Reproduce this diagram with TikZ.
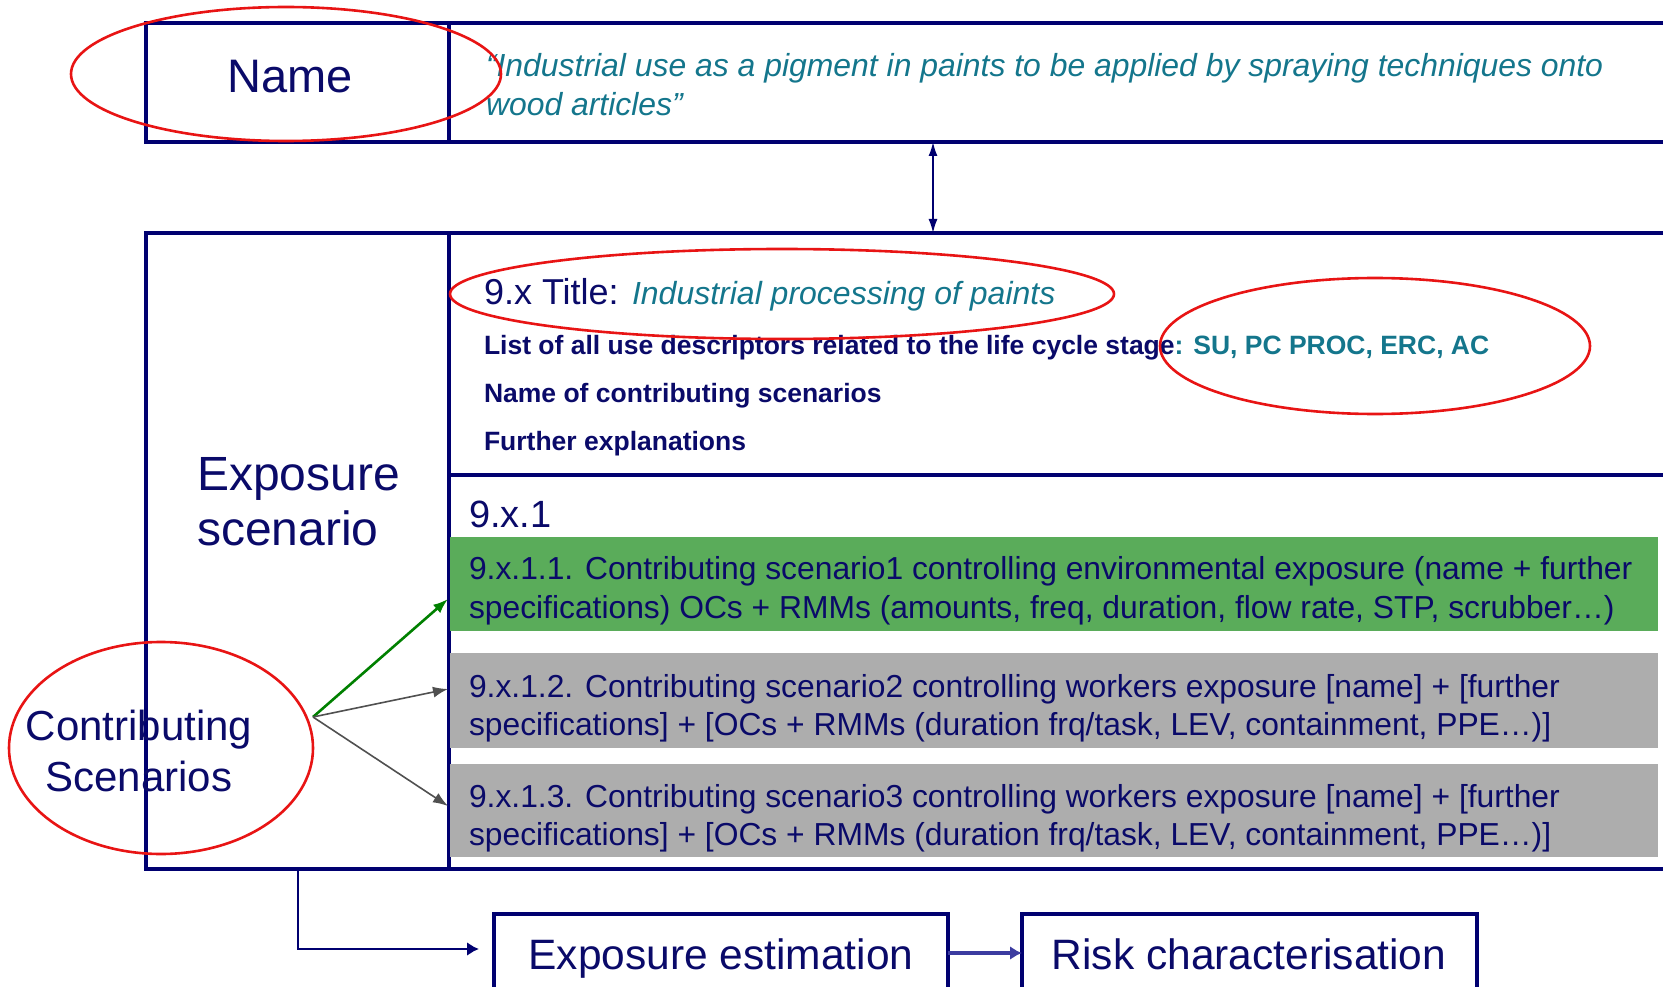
\documentclass[tikz,border=0pt]{standalone}
\usepackage{fontspec}
\setmainfont{Liberation Sans}
\usetikzlibrary{arrows.meta,calc}
\definecolor{navyline}{RGB}{0,0,112}
\definecolor{navytext}{RGB}{10,10,105}
\definecolor{tealtext}{RGB}{20,118,140}
\definecolor{greenfill}{RGB}{90,172,90}
\definecolor{grayfill}{RGB}{173,173,173}
\definecolor{ringred}{RGB}{232,20,20}
\definecolor{arrowgreen}{RGB}{0,128,0}
\definecolor{arrowgray}{RGB}{80,80,80}
\definecolor{flowblue}{RGB}{60,60,160}
\newcommand{\fsz}[1]{\fontsize{#1pt}{#1pt}\selectfont}
\begin{document}
\begin{tikzpicture}[x=1pt,y=-1pt,
  box/.style={draw=navyline, line width=3.4pt, inner sep=0pt, outer sep=0pt, anchor=north west},
  band/.style={inner sep=0pt, outer sep=0pt, anchor=north west, minimum width=1208pt, minimum height=94pt},
  txt/.style={inner sep=0pt, outer sep=0pt, anchor=base west, text=navytext},
  ring/.style={draw=ringred, line width=2.6pt},
  spoke/.style={line width=1.6pt, -{Latex[length=15pt,width=11pt]}},
  flow/.style={draw=navyline, line width=2.8pt, -{Latex[length=12pt,width=14pt]}}]
\clip (0,0) rectangle (1663,987);

% name row
\node[box, minimum width=303pt, minimum height=119pt] (namecell) at (146,23) {};
\node[box, minimum width=1300pt, minimum height=119pt] (namebody) at (449,23) {};
\node[txt, anchor=base, font=\fsz{47}] (nametxt) at (290,93) {Name};
\node[txt, font=\fsz{31.9}\itshape, text=tealtext] (quote1) at (486,77) {“Industrial use as a pigment in paints to be applied by spraying techniques onto};
\node[txt, font=\fsz{31.9}\itshape, text=tealtext] (quote2) at (486,116) {wood articles”};

% exposure scenario block
\node[box, minimum width=303pt, minimum height=636pt] (escol) at (146,233) {};
\node[box, minimum width=1300pt, minimum height=636pt] (esbody) at (449,233) {};
\coordinate (divider) at (0,475);
\draw[navyline, line width=3.4pt] (esbody.west |- divider) -- (1700,475);

\node[txt, font=\fsz{36}] (title) at (484,305) {9.x Title: \textcolor{tealtext}{\fsz{32}\itshape Industrial processing of paints}};
\node[txt, font=\fsz{26.5}\bfseries] (descr) at (484,354) {List of all use descriptors related to the life cycle stage\textcolor{tealtext}{: SU, PC PROC, ERC, AC}};
\node[txt, font=\fsz{26.5}\bfseries] (csnames) at (484,402) {Name of contributing scenarios};
\node[txt, font=\fsz{26.5}\bfseries] (further) at (484,450) {Further explanations};

\node[txt, font=\fsz{48}] (exp1) at (197,490) {Exposure};
\node[txt, font=\fsz{48}] (exp2) at (197,545) {scenario};
\node[txt, font=\fsz{38}] (sec) at (469,527) {9.x.1};

% contributing scenario bands
\node[band, fill=greenfill] (cs1) at (450,537) {};
\node[band, fill=grayfill, minimum height=95pt] (cs2) at (450,653) {};
\node[band, fill=grayfill, minimum height=93pt] (cs3) at (450,764) {};
\node[txt, font=\fsz{31.8}] (cs1a) at (469,579) {9.x.1.1. Contributing scenario1 controlling environmental exposure (name + further};
\node[txt, font=\fsz{31.8}] (cs1b) at (469,618) {specifications) OCs + RMMs (amounts, freq, duration, flow rate, STP, scrubber…)};
\node[txt, font=\fsz{31.8}] (cs2a) at (469,697) {9.x.1.2. Contributing scenario2 controlling workers exposure [name] + [further};
\node[txt, font=\fsz{31.8}] (cs2b) at (469,735) {specifications] + [OCs + RMMs (duration frq/task, LEV, containment, PPE…)]};
\node[txt, font=\fsz{31.8}] (cs3a) at (469,807) {9.x.1.3. Contributing scenario3 controlling workers exposure [name] + [further};
\node[txt, font=\fsz{31.8}] (cs3b) at (469,845) {specifications] + [OCs + RMMs (duration frq/task, LEV, containment, PPE…)]};

\node[txt, anchor=base, font=\fsz{42}] (contrib1) at (139,740) {Contributing};
\node[txt, anchor=base, font=\fsz{42}] (contrib2) at (139,791) {Scenarios};

% spokes from the contributing scenarios label
\coordinate (hub) at (313,717);
\coordinate (tip1) at (448,599);
\coordinate (tip2) at (448,689);
\coordinate (tip3) at (448,806);
\draw[spoke, arrowgreen, line width=2.6pt] (hub) -- (tip1);
\draw[spoke, arrowgray] (hub) -- (tip2);
\draw[spoke, arrowgray] (hub) -- (tip3);

% link between name and exposure scenario
\coordinate (linkx) at (933,0);
\draw[navyline, line width=1.6pt, {Latex[length=14pt,width=9pt]}-{Latex[length=14pt,width=9pt]}]
  (namebody.south -| linkx) -- (esbody.north -| linkx);

% assessment chain
\node[box, minimum width=454pt, minimum height=110pt] (estim) at (494,914) {};
\node[box, minimum width=455pt, minimum height=110pt] (risk) at (1022,914) {};
\node[txt, anchor=base, font=\fsz{42.5}] (estimtxt) at (721,969) {Exposure estimation};
\node[txt, anchor=base, font=\fsz{42.5}] (risktxt) at (1249,969) {Risk characterisation};
\coordinate (drop) at (298,0);
\coordinate (feedy) at (0,949);
\coordinate (chainy) at (0,953);
\draw[flow] (escol.south -| drop) |- ([xshift=-15pt]estim.west |- feedy);
\draw[flowblue, line width=4pt, -{Latex[length=12pt,width=14pt]}] (estim.east |- chainy) -- (risk.west |- chainy);

% highlight rings
\draw[ring] (286,74) ellipse [x radius=215pt, y radius=67pt];
\draw[ring] (782,294) ellipse [x radius=332pt, y radius=45pt];
\draw[ring] (1375,346) ellipse [x radius=215pt, y radius=68pt];
\draw[ring] (161,748) ellipse [x radius=152pt, y radius=106pt];
\end{tikzpicture}
\end{document}
